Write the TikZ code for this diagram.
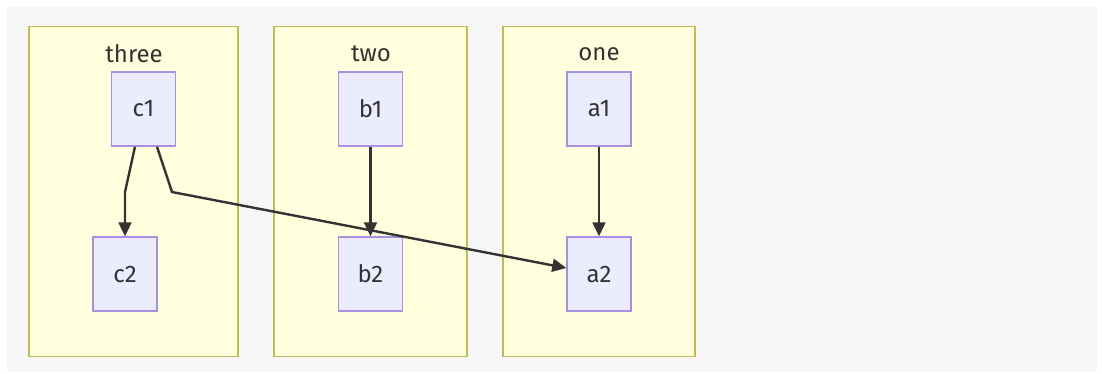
\documentclass[tikz,border=0pt]{standalone}
\usepackage{fontspec}
\setmainfont{Fira Sans}
\usetikzlibrary{arrows.meta,positioning}
\colorlet{background}{white}
\definecolor{pageGray}{HTML}{F6F6F6}
\definecolor{clusterFill}{HTML}{FFFFDE}
\definecolor{clusterPen}{HTML}{BDBD55}
\definecolor{nodeFill}{HTML}{ECECFF}
\definecolor{nodePen}{HTML}{A890E0}
\definecolor{edgePen}{HTML}{333333}
\tikzset{>={Triangle[length=14pt,width=13pt]}}
\tikzset{
  cluster/.style={draw=clusterPen, fill=clusterFill, line width=1.8pt, minimum height=330pt, inner sep=0pt},
  box/.style={draw=nodePen, fill=nodeFill, line width=1.5pt, minimum width=64pt, minimum height=74pt, inner sep=0pt, text=edgePen, font=\fontsize{24}{28}\selectfont},
  title/.style={text=edgePen, font=\fontsize{24}{28}\selectfont, inner sep=0pt},
  link/.style={->, edgePen, line width=2.4pt},
}

\begin{document}
\begin{tikzpicture}[x=1pt,y=-1pt]
				\useasboundingbox (0,0) rectangle (1102,374);
				\fill[background] (0,0) rectangle (1102,374);
				\fill[pageGray] (7,7) rectangle (1097,372);
				
				% subgraphs
				\node[cluster, minimum width=209pt] (three) at (133.5,191.5) {};
				\node[cluster, minimum width=193pt] (two) at (370.5,191.5) {};
				\node[cluster, minimum width=192pt] (one) at (599,191.5) {};
				\node[title] (threeLabel) at (134,54) {three};
				\node[title] (twoLabel) at (371,54) {two};
				\node[title] (oneLabel) at (599,54) {one};
				
				% nodes
				\node[box] (c1) at (143.5,109) {c1};
				\node[box] (c2) at (125,274) {c2};
				\node[box] (b1) at (370.5,109) {b1};
				\node[box] (b2) at (370.5,274) {b2};
				\node[box] (a1) at (599,109) {a1};
				\node[box] (a2) at (599,274) {a2};
				
				% edges
				\draw[link] ([xshift=-8.5pt]c1.south) -- (125,192) -- (c2.north);
				\draw[link] (b1) -- (b2);
				\draw[link] (a1) -- (a2);
				\draw[link] ([xshift=13.5pt]c1.south) -- (172,192) -- ([yshift=6pt]a2.west);
				\end{tikzpicture}
\end{document}
